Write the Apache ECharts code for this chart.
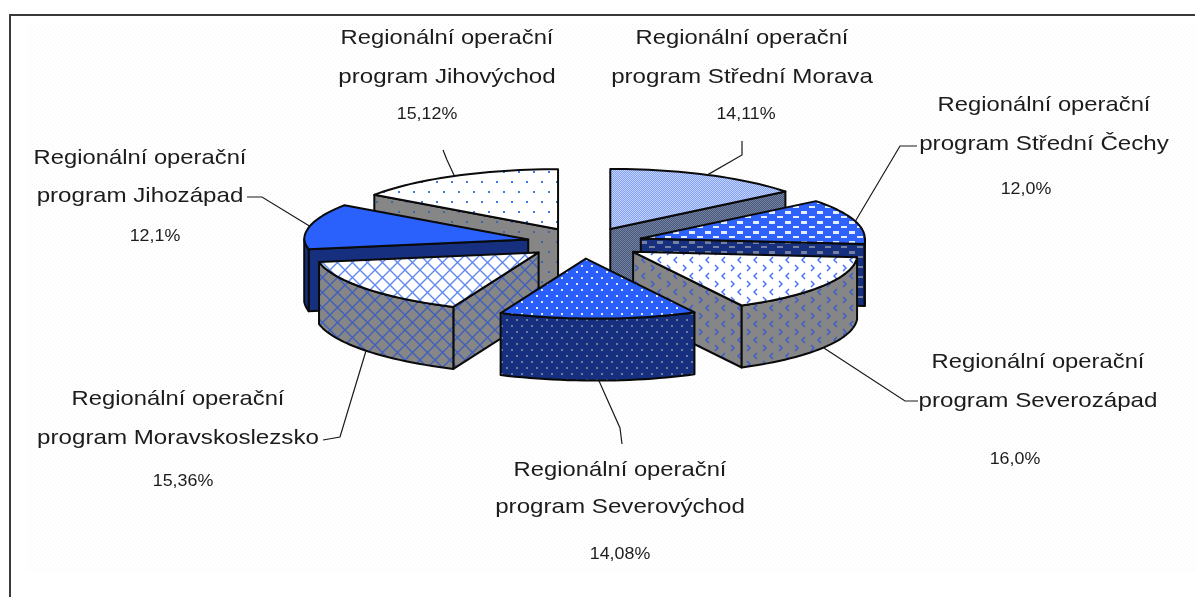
<!DOCTYPE html>
<html>
<head>
<meta charset="utf-8">
<style>html,body{margin:0;padding:0;background:#fff}#chart{width:1195px;height:597px}</style>
<script src="https://cdn.jsdelivr.net/npm/echarts@6/dist/echarts.min.js"></script>
</head>
<body>
<div id="chart"></div>
<script>
// clockwise from 12 o'clock
const names = ['program Střední Morava', 'program Střední Čechy', 'program Severozápad', 'program Severovýchod', 'program Moravskoslezsko', 'program Jihozápad', 'program Jihovýchod'];
const values = [14.11, 12.0, 16.0, 14.08, 15.36, 12.1, 15.12];
const pctLabels = ['14,11%', '12,0%', '16,0%', '14,08%', '15,36%', '12,1%', '15,12%'];
const firstLine = 'Regionální operační';

// pie geometry, SKEW leans the front of the pie to the right like the old 3D view
const CX = 585, CY = 243, RX = 224, RY = 60, EXPLODE = 0.26, DEPTH = 62, SKEW = 0.16;
// label layout: line centres x, line ys, percent x
const labelPos = [
  [742, 38, 77, 746, 114], [1044, 105, 144, 1026, 189], [1038, 362, 401, 1015, 459],
  [620, 470, 507, 620, 554], [178, 399, 438, 183, 481], [140, 158, 196, 155, 236], [447, 38, 77, 427, 114],
];
// leader elbow and end
const leaders = [
  [[742, 155], [742, 141]], [[900, 146], [917, 146]], [[905, 401], [918, 401]],
  [[620, 428], [622, 444]], [[340, 437], [323, 440]], [[262, 197], [247, 197]], [[447, 160], [443, 150]],
];

function tile(w, h, bg, draw) {
  const c = document.createElement('canvas');
  c.width = w; c.height = h;
  const g = c.getContext('2d');
  g.fillStyle = bg; g.fillRect(0, 0, w, h);
  draw(g, w, h);
  return { image: c, repeat: 'repeat' };
}
const dots = (col, r) => (g, w, h) => {
  g.fillStyle = col;
  g.fillRect(1, 1, r, r);
  g.fillRect(1 + Math.floor(w / 2), 1 + h / 2, r, r);
};
const cross = (col, lw) => g => {
  g.strokeStyle = col; g.lineWidth = lw;
  g.beginPath(); g.moveTo(0, 0); g.lineTo(15, 15); g.moveTo(15, 0); g.lineTo(0, 15); g.stroke();
};
const chevron = col => g => {
  g.strokeStyle = col; g.lineWidth = 1.5;
  g.beginPath(); g.moveTo(5, 1); g.lineTo(2, 4); g.lineTo(5, 7);
  g.moveTo(11, 9); g.lineTo(14, 12); g.lineTo(11, 15); g.stroke();
};
const dashes = col => g => {
  g.fillStyle = col;
  g.fillRect(1, 1, 6, 3); g.fillRect(9, 6, 6, 2);
};
const checker = col => g => {
  g.fillStyle = col;
  g.fillRect(0, 0, 1, 1); g.fillRect(1, 1, 1, 1);
};

const tops = [
  tile(2, 2, '#7f9ffb', checker('#c8d6fd')),
  tile(16, 10, '#2f62fb', dashes('#e6ecff')),
  tile(16, 16, '#ffffff', chevron('#4a78f0')),
  tile(10, 12, '#2a5ffb', dots('#e4ebff', 2)),
  tile(15, 15, '#ffffff', cross('#6088ee', 1.4)),
  '#2a60fb',
  tile(15, 20, '#ffffff', dots('#3f78e0', 2)),
];
const walls = [
  tile(2, 2, '#46587f', checker('#76819b')),
  tile(16, 10, '#16307f', dashes('#75809f')),
  tile(16, 16, '#868686', chevron('#3d5fc8')),
  tile(10, 12, '#16307f', dots('#6e7ca0', 2)),
  tile(15, 15, '#868686', cross('#3f5fbd', 1.4)),
  '#16307f',
  tile(15, 20, '#868686', dots('#3d64b0', 2)),
];
const bgDots = tile(4, 4, '#ffffff', g => { g.fillStyle = '#f4f4f4'; g.fillRect(0, 0, 1, 1); g.fillRect(2, 2, 1, 1); });

// angles in degrees from the values
const total = values.reduce((a, b) => a + b, 0);
let acc = 0;
const slices = values.map((v, i) => {
  const a0 = acc / total * 360;
  acc += v;
  const a1 = acc / total * 360;
  const mid = (a0 + a1) / 2 * Math.PI / 180;
  return { i, a0, a1, mid, ax: CX + EXPLODE * RX * Math.sin(mid), ay: CY - EXPLODE * RY * Math.cos(mid) };
});
// back slices first
const drawOrder = slices.slice().sort((p, q) => Math.cos(q.mid) - Math.cos(p.mid)).map(s => s.i);

function rimPoint(s, deg, drop) {
  const t = deg * Math.PI / 180;
  const dy = -RY * Math.cos(t);
  return [s.ax + RX * Math.sin(t) + SKEW * Math.max(0, dy), s.ay + dy + (drop || 0)];
}
function arc(s, from, to, drop) {
  const pts = [];
  const n = Math.max(2, Math.ceil(Math.abs(to - from) / 2));
  for (let k = 0; k <= n; k++) pts.push(rimPoint(s, from + (to - from) * k / n, drop));
  return pts;
}
const LINE = { stroke: '#0a0a0a', lineWidth: 2, lineJoin: 'round' };
function poly(points, fill) {
  return { type: 'polygon', shape: { points }, style: Object.assign({ fill }, LINE) };
}

function renderSlice(params, api) {
  const s = slices[api.value(0)];
  const i = s.i, kids = [];
  const apex = [s.ax, s.ay], apexLow = [s.ax, s.ay + DEPTH];
  const sin0 = Math.sin(s.a0 * Math.PI / 180), sin1 = Math.sin(s.a1 * Math.PI / 180);
  // cut faces that look at the viewer
  if (sin1 > 0) {
    const e = rimPoint(s, s.a1);
    kids.push(poly([apex, e, [e[0], e[1] + DEPTH], apexLow], walls[i]));
  }
  if (sin0 < 0) {
    const e = rimPoint(s, s.a0);
    kids.push(poly([apex, e, [e[0], e[1] + DEPTH], apexLow], walls[i]));
  }
  // front part of the rim
  const f0 = Math.max(s.a0, 90), f1 = Math.min(s.a1, 270);
  if (f1 > f0) {
    kids.push(poly(arc(s, f0, f1, 0).concat(arc(s, f1, f0, DEPTH)), walls[i]));
  }
  kids.push(poly([apex].concat(arc(s, s.a0, s.a1, 0)), tops[i]));
  // leader from the rim middle
  const midDeg = (s.a0 + s.a1) / 2;
  const front = Math.cos(s.mid) < -0.3;
  const start = rimPoint(s, midDeg, front ? DEPTH : 0);
  kids.push({
    type: 'polyline',
    shape: { points: [start, leaders[i][0], leaders[i][1]] },
    style: { fill: 'none', stroke: '#1a1a1a', lineWidth: 1.2 },
  });
  return { type: 'group', children: kids };
}

function text(str, x, y, size, stretch) {
  return {
    type: 'text', x, y, scaleX: stretch,
    style: { text: str, x: 0, y: 0, fill: '#1c1c1c', font: size + 'px "Liberation Sans"', textAlign: 'center', textVerticalAlign: 'middle' },
  };
}
function renderLabel(params, api) {
  const i = api.value(0), p = labelPos[i];
  return {
    type: 'group',
    children: [text(firstLine, p[0], p[1], 21, 1.133), text(names[i], p[0], p[2], 21, 1.15), text(pctLabels[i], p[3], p[4], 17, 1.05)],
  };
}

const chart = echarts.init(document.getElementById('chart'), null, { renderer: 'canvas' });
chart.setOption({
  animation: false,
  backgroundColor: '#fff',
  graphic: [
    { type: 'rect', z: -1, shape: { x: 28, y: 24, width: 1167, height: 547 }, style: { fill: bgDots } },
    { type: 'polyline', z: 0, shape: { points: [[10, 597], [10, 15], [1195, 15]] }, style: { fill: 'none', stroke: '#3a3a3a', lineWidth: 2 } },
  ],
  series: [
    { type: 'custom', coordinateSystem: 'none', renderItem: renderSlice, data: drawOrder.map(i => [i, values[i]]), z: 2 },
    { type: 'custom', coordinateSystem: 'none', renderItem: renderLabel, data: names.map((n, i) => [i]), z: 3 },
  ],
});
</script>
</body>
</html>
